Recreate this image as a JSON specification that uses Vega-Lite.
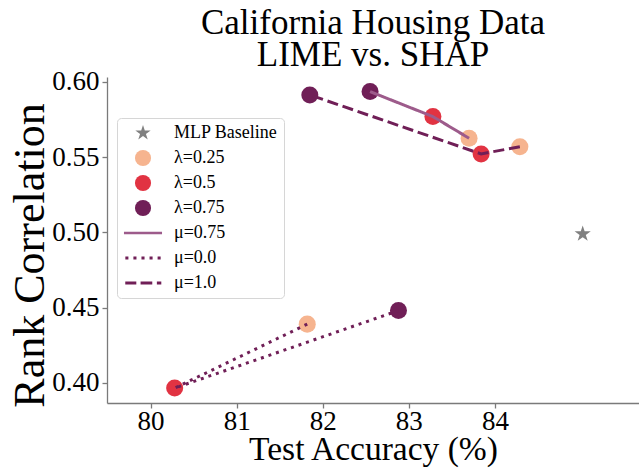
{
  "$schema": "https://vega.github.io/schema/vega-lite/v6.json",
  "width": 532,
  "height": 326,
  "autosize": "none",
  "padding": {"left": 107, "top": 77, "right": 0, "bottom": 67},
  "background": "white",
  "title": {
    "text": ["California Housing Data", "LIME vs. SHAP"],
    "font": "Liberation Serif",
    "fontSize": 35,
    "fontWeight": "normal",
    "color": "black",
    "lineHeight": 32,
    "anchor": "middle",
    "offset": -5
  },
  "config": {
    "view": {"stroke": null},
    "axis": {
      "grid": false,
      "domainColor": "#7a7a7a",
      "domainWidth": 1.3,
      "tickColor": "#7a7a7a",
      "tickWidth": 1.3,
      "tickSize": 5,
      "labelFont": "Liberation Serif",
      "labelFontSize": 27,
      "labelColor": "black",
      "titleFont": "Liberation Serif",
      "titleFontWeight": "normal",
      "titleColor": "black"
    },
    "legend": {
      "labelFont": "Liberation Serif",
      "labelFontSize": 18,
      "labelColor": "black"
    }
  },
  "data": {
    "values": [
      {"kind": "pt", "series": "MLP Baseline", "acc": 85.02, "corr": 0.499, "lam": 0},
      {"kind": "pt", "series": "λ=0.25", "acc": 83.70, "corr": 0.5626, "lam": 0.25},
      {"kind": "pt", "series": "λ=0.25", "acc": 84.29, "corr": 0.557, "lam": 0.25},
      {"kind": "pt", "series": "λ=0.25", "acc": 81.82, "corr": 0.4391, "lam": 0.25},
      {"kind": "pt", "series": "λ=0.5", "acc": 83.28, "corr": 0.577, "lam": 0.5},
      {"kind": "pt", "series": "λ=0.5", "acc": 83.84, "corr": 0.5522, "lam": 0.5},
      {"kind": "pt", "series": "λ=0.5", "acc": 80.28, "corr": 0.3966, "lam": 0.5},
      {"kind": "pt", "series": "λ=0.75", "acc": 82.55, "corr": 0.5936, "lam": 0.75},
      {"kind": "pt", "series": "λ=0.75", "acc": 81.85, "corr": 0.5914, "lam": 0.75},
      {"kind": "pt", "series": "λ=0.75", "acc": 82.88, "corr": 0.4481, "lam": 0.75},
      {"kind": "ln", "series": "μ=0.75", "acc": 82.55, "corr": 0.5936, "lam": 0.75},
      {"kind": "ln", "series": "μ=0.75", "acc": 83.28, "corr": 0.577, "lam": 0.5},
      {"kind": "ln", "series": "μ=0.75", "acc": 83.70, "corr": 0.5626, "lam": 0.25},
      {"kind": "ln", "series": "μ=0.0", "acc": 82.88, "corr": 0.4481, "lam": 0.75},
      {"kind": "ln", "series": "μ=0.0", "acc": 80.28, "corr": 0.3966, "lam": 0.5},
      {"kind": "ln", "series": "μ=0.0", "acc": 81.82, "corr": 0.4391, "lam": 0.25},
      {"kind": "ln", "series": "μ=1.0", "acc": 81.85, "corr": 0.5914, "lam": 0.75},
      {"kind": "ln", "series": "μ=1.0", "acc": 83.84, "corr": 0.5522, "lam": 0.5},
      {"kind": "ln", "series": "μ=1.0", "acc": 84.29, "corr": 0.557, "lam": 0.25}
    ]
  },
  "encoding": {
    "x": {
      "field": "acc",
      "type": "quantitative",
      "scale": {"domain": [79.494, 85.674], "nice": false, "zero": false},
      "axis": {"values": [80, 81, 82, 83, 84], "title": "Test Accuracy (%)", "titleFontSize": 33.5, "labelPadding": 0, "titlePadding": -1}
    },
    "y": {
      "field": "corr",
      "type": "quantitative",
      "scale": {"domain": [0.3867, 0.6033], "nice": false, "zero": false},
      "axis": {"values": [0.40, 0.45, 0.50, 0.55, 0.60], "format": ".2f", "title": "Rank Correlation", "titleFontSize": 44, "labelPadding": 3, "titlePadding": -1, "titleY": 178}
    }
  },
  "layer": [
    {
      "transform": [{"filter": "datum.kind === 'pt'"}],
      "mark": {"type": "point", "filled": true, "opacity": 1, "size": 290, "strokeWidth": 0},
      "encoding": {
        "color": {
          "field": "series",
          "type": "nominal",
          "scale": {
            "domain": ["MLP Baseline", "λ=0.25", "λ=0.5", "λ=0.75", "μ=0.75", "μ=0.0", "μ=1.0"],
            "range": ["#808080", "#f6b48f", "#e13342", "#701f57", "#9d5b8b", "#701f57", "#701f57"]
          },
          "legend": {
            "title": null,
            "orient": "none",
            "legendX": 10,
            "legendY": 41,
            "symbolSize": 260,
            "symbolStrokeWidth": 0,
            "symbolOffset": 11,
            "labelOffset": 22,
            "rowPadding": 7,
            "padding": 6,
            "strokeColor": "#d6d6d6",
            "fillColor": "white",
            "cornerRadius": 4
          }
        },
        "shape": {
          "field": "series",
          "type": "nominal",
          "scale": {
            "domain": ["MLP Baseline", "λ=0.25", "λ=0.5", "λ=0.75", "μ=0.75", "μ=0.0", "μ=1.0"],
            "range": [
              "M0,-1L0.2245,-0.309L0.951,-0.309L0.3633,0.118L0.588,0.809L0,0.382L-0.588,0.809L-0.3633,0.118L-0.951,-0.309L-0.2245,-0.309Z",
              "circle",
              "circle",
              "circle",
              "M-2.36,-0.17H2.36V0.17H-2.36Z",
              "M-2.19,-0.19H-1.81V0.19H-2.19ZM-1.19,-0.19H-0.81V0.19H-1.19ZM-0.19,-0.19H0.19V0.19H-0.19ZM0.81,-0.19H1.19V0.19H0.81ZM1.81,-0.19H2.19V0.19H1.81Z",
              "M-2.2,-0.19H-0.83V0.19H-2.2ZM-0.3,-0.19H1.15V0.19H-0.3ZM1.72,-0.19H2.27V0.19H1.72Z"
            ]
          },
          "legend": {"title": null}
        }
      }
    },
    {
      "transform": [{"filter": "datum.kind === 'ln'"}],
      "mark": {"type": "line", "strokeWidth": 3, "strokeCap": "butt"},
      "encoding": {
        "color": {"field": "series", "type": "nominal", "legend": null},
        "strokeDash": {
          "field": "series",
          "type": "nominal",
          "scale": {"domain": ["μ=0.75", "μ=0.0", "μ=1.0"], "range": [[1, 0], [3, 4.95], [11.1, 4.8]]},
          "legend": null
        },
        "order": {"field": "lam", "type": "quantitative"}
      }
    }
  ]
}
